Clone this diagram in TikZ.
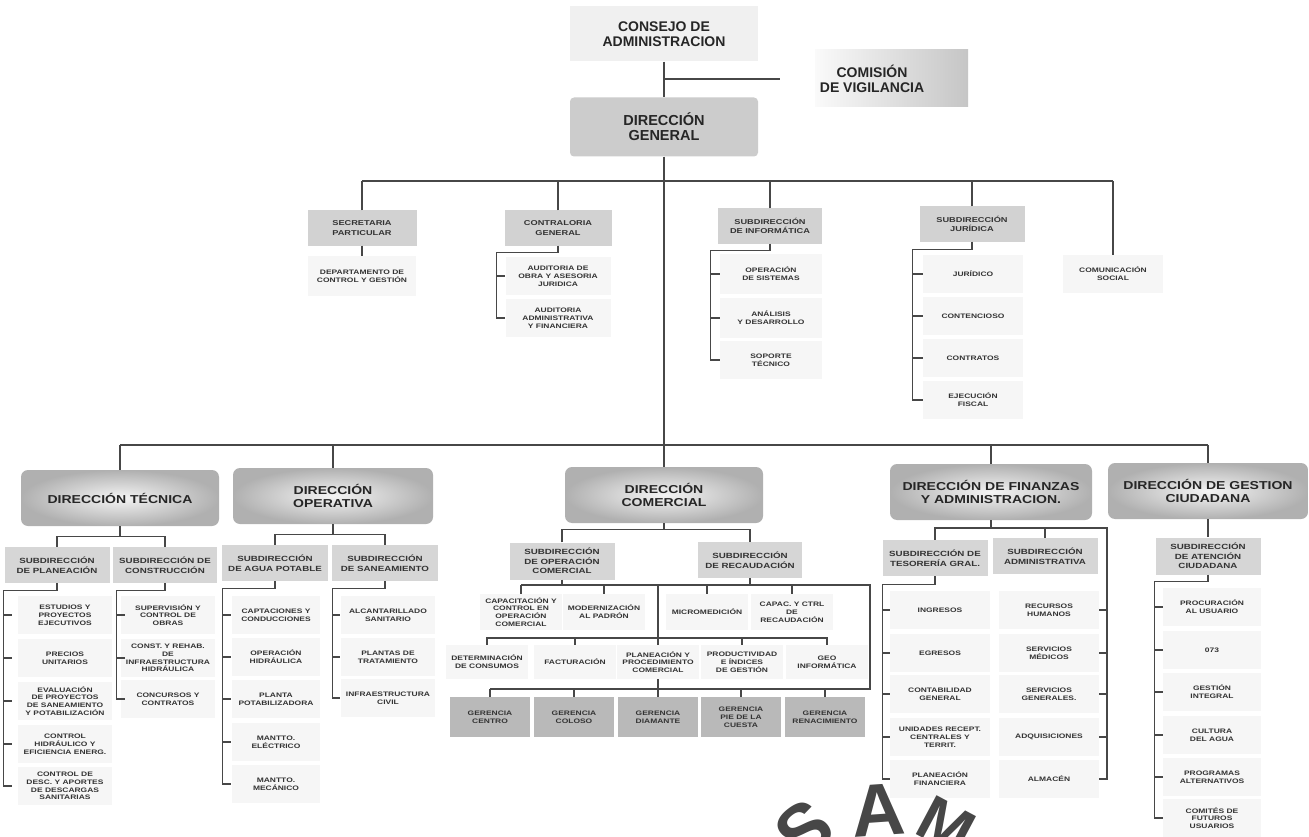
\documentclass[tikz,border=0pt]{standalone}
\usepackage{fontspec}
\setmainfont{Liberation Sans}
\newfontfamily\widef[FakeStretch=1.3]{Liberation Sans}
\newfontfamily\dirf[FakeStretch=1.22]{Liberation Sans}
\usetikzlibrary{calc}
\begin{document}
\begin{tikzpicture}[x=1pt,y=-1pt,
 ln/.style={draw=black!72, line width=1.1pt},
 topbox/.style={font=\bfseries\fontsize{14}{14.5}\selectfont, align=center, inner sep=0pt, text=black!85},
 dirbox/.style={rounded corners=7pt, inner color=gray!8, outer color=gray!62, font=\dirf\bfseries\fontsize{11.5}{13.5}\selectfont, align=center, minimum width=198pt, minimum height=56pt, inner sep=0pt, text=black!85},
 hdr/.style={fill=gray!35, font=\widef\bfseries\fontsize{7.1}{9.5}\selectfont, align=center, inner sep=0pt, minimum width=105pt, minimum height=35pt, text=black!80},
 sub/.style={fill=gray!32, font=\widef\bfseries\fontsize{7.5}{10}\selectfont, align=center, inner sep=0pt, minimum width=105pt, minimum height=36pt, text=black!80},
 item/.style={fill=gray!7, font=\widef\bfseries\fontsize{6.5}{7.8}\selectfont, align=center, inner sep=0pt, minimum width=94pt, minimum height=38pt, text=black!80},
 ger/.style={item, fill=gray!55, minimum width=80pt, minimum height=40pt},
 stamp/.style={font=\bfseries\fontsize{74}{74}\selectfont, text=black!72, inner sep=0pt}
]
\fill[white] (0,0) rectangle (1309,837);
\useasboundingbox (0,0) rectangle (1309,837);

% ---------------- top
\node[topbox, fill=gray!12, minimum width=188pt, minimum height=55pt] (consejo) at (664,34) {CONSEJO DE\\ADMINISTRACION};
\shade[left color=gray!4, right color=gray!45] (815,50) rectangle (968,107);
\node[topbox] (comision) at (872,79) {COMISIÓN\\DE VIGILANCIA};
\node[topbox, font=\bfseries\fontsize{14.5}{15}\selectfont, fill=gray!40, rounded corners=4pt, minimum width=188pt, minimum height=59pt] (dg) at (664,127) {DIRECCIÓN\\GENERAL};
\coordinate (cv) at (780,79);
\draw[ln] (consejo.south) -- (dg.north);
\draw[ln] (consejo.south |- cv) -- (cv);

% ---------------- second level
\coordinate (b1) at (664,181);
\node[hdr, minimum width=109pt] (sec) at (362,228) {SECRETARIA\\PARTICULAR};
\node[item, minimum width=108pt, minimum height=40pt] (dept) at (362,276) {DEPARTAMENTO DE\\CONTROL Y GESTIÓN};
\node[hdr, minimum width=107pt] (contra) at (558,228) {CONTRALORIA\\GENERAL};
\node[item, minimum width=105pt] (aud1) at (558,276) {AUDITORIA DE\\OBRA Y ASESORIA\\JURIDICA};
\node[item, minimum width=105pt] (aud2) at (558,318) {AUDITORIA\\ADMINISTRATIVA\\Y FINANCIERA};
\node[hdr, minimum width=104pt] (info) at (770,226) {SUBDIRECCIÓN\\DE INFORMÁTICA};
\node[item, minimum width=102pt, minimum height=40pt] (inf1) at (771,274) {OPERACIÓN\\DE SISTEMAS};
\node[item, minimum width=102pt, minimum height=40pt] (inf2) at (771,318) {ANÁLISIS\\Y DESARROLLO};
\node[item, minimum width=102pt, minimum height=38pt] (inf3) at (771,360) {SOPORTE\\TÉCNICO};
\node[hdr] (jur) at (972,224) {SUBDIRECCIÓN\\JURÍDICA};
\node[item, minimum width=100pt] (jur1) at (973,274) {JURÍDICO};
\node[item, minimum width=100pt] (jur2) at (973,316) {CONTENCIOSO};
\node[item, minimum width=100pt] (jur3) at (973,358) {CONTRATOS};
\node[item, minimum width=100pt] (jur4) at (973,400) {EJECUCIÓN\\FISCAL};
\node[item, minimum width=100pt] (com) at (1113,274) {COMUNICACIÓN\\SOCIAL};

\draw[ln] (sec.north |- b1) -- (com.north |- b1);
\foreach \n in {sec,contra,info,jur,com} \draw[ln] (\n.north) -- (\n.north |- b1);
\draw[ln] (sec.south) -- (dept.north);
\draw[ln] (contra.south) -- ++(0,7) -| ([xshift=-9pt]aud2.west) -- (aud2.west);
\draw[ln] ([xshift=-9pt]aud1.west) -- (aud1.west);
\draw[ln] (info.south) -- ++(0,7) -| ([xshift=-9pt]inf3.west) -- (inf3.west);
\foreach \n in {inf1,inf2} \draw[ln] ([xshift=-9pt]\n.west) -- (\n.west);
\draw[ln] (jur.south) -- ++(0,8) -| ([xshift=-10pt]jur4.west) -- (jur4.west);
\foreach \n in {jur1,jur2,jur3} \draw[ln] ([xshift=-10pt]\n.west) -- (\n.west);

% ---------------- direcciones
\coordinate (b2) at (664,445);
\node[dirbox] (dtec) at (120,498) {DIRECCIÓN TÉCNICA};
\node[dirbox, minimum width=200pt] (dope) at (333,496) {DIRECCIÓN\\OPERATIVA};
\node[dirbox] (dcom) at (664,495) {DIRECCIÓN\\COMERCIAL};
\node[dirbox, minimum width=202pt] (dfin) at (991,492) {DIRECCIÓN DE FINANZAS\\Y ADMINISTRACION.};
\node[dirbox, minimum width=200pt] (dges) at (1208,491) {DIRECCIÓN DE GESTION\\CIUDADANA};
\draw[ln] (dg.south) -- (dcom.north);
\draw[ln] (dtec.north |- b2) -- (dges.north |- b2);
\foreach \n in {dtec,dope,dfin,dges} \draw[ln] (\n.north) -- (\n.north |- b2);

% ---------------- tecnica
\node[sub] (splan) at (57,565) {SUBDIRECCIÓN\\DE PLANEACIÓN};
\node[sub, minimum width=104pt] (scons) at (165,565) {SUBDIRECCIÓN DE\\CONSTRUCCIÓN};
\draw[ln] (dtec.south) -- ++(0,10) coordinate (tj);
\draw[ln] (splan.north) |- (tj) -| (scons.north);
\node[item] (p1) at (65,615) {ESTUDIOS Y\\PROYECTOS\\EJECUTIVOS};
\node[item] (p2) at (65,658) {PRECIOS\\UNITARIOS};
\node[item] (p3) at (65,701) {EVALUACIÓN\\DE PROYECTOS\\DE SANEAMIENTO\\Y POTABILIZACIÓN};
\node[item] (p4) at (65,744) {CONTROL\\HIDRÁULICO Y\\EFICIENCIA ENERG.};
\node[item] (p5) at (65,786) {CONTROL DE\\DESC. Y APORTES\\DE DESCARGAS\\SANITARIAS};
\draw[ln] (splan.south) -- ++(0,7) -| ([xshift=-14pt]p5.west) -- ([xshift=-6pt]p5.west);
\foreach \n in {p1,p2,p3,p4} \draw[ln] ([xshift=-14pt]\n.west) -- ([xshift=-6pt]\n.west);
\node[item] (c1) at (168,615) {SUPERVISIÓN Y\\CONTROL DE\\OBRAS};
\node[item] (c2) at (168,658) {CONST. Y REHAB.\\DE\\INFRAESTRUCTURA\\HIDRÁULICA};
\node[item] (c3) at (168,699) {CONCURSOS Y\\CONTRATOS};
\draw[ln] (scons.south) -- ++(0,7) -| ([xshift=-4pt]c3.west) -- ([xshift=4pt]c3.west);
\foreach \n in {c1,c2} \draw[ln] ([xshift=-4pt]\n.west) -- ([xshift=4pt]\n.west);

% ---------------- operativa
\node[sub, minimum width=106pt] (sagua) at (275,563) {SUBDIRECCIÓN\\DE AGUA POTABLE};
\node[sub, minimum width=106pt] (ssan) at (385,563) {SUBDIRECCIÓN\\DE SANEAMIENTO};
\draw[ln] (dope.south) -- ++(0,10) coordinate (oj);
\draw[ln] (sagua.north) |- (oj) -| (ssan.north);
\node[item, minimum width=88pt] (a1) at (276,615) {CAPTACIONES Y\\CONDUCCIONES};
\node[item, minimum width=88pt] (a2) at (276,657) {OPERACIÓN\\HIDRÁULICA};
\node[item, minimum width=88pt] (a3) at (276,699) {PLANTA\\POTABILIZADORA};
\node[item, minimum width=88pt] (a4) at (276,742) {MANTTO.\\ELÉCTRICO};
\node[item, minimum width=88pt] (a5) at (276,784) {MANTTO.\\MECÁNICO};
\draw[ln] (sagua.south) -- ++(0,7) -| ([xshift=-9pt]a5.west) -- ([xshift=-1pt]a5.west);
\foreach \n in {a1,a2,a3,a4} \draw[ln] ([xshift=-9pt]\n.west) -- ([xshift=-1pt]\n.west);
\node[item] (s1) at (388,615) {ALCANTARILLADO\\SANITARIO};
\node[item] (s2) at (388,657) {PLANTAS DE\\TRATAMIENTO};
\node[item] (s3) at (388,698) {INFRAESTRUCTURA\\CIVIL};
\draw[ln] (ssan.south) -- ++(0,7) -| ([xshift=-8pt]s3.west) -- ([xshift=-1pt]s3.west);
\foreach \n in {s1,s2} \draw[ln] ([xshift=-8pt]\n.west) -- ([xshift=-1pt]\n.west);

% ---------------- comercial
\node[sub, font=\widef\bfseries\fontsize{7.5}{9.5}\selectfont, minimum height=37pt] (sopc) at (562,561) {SUBDIRECCIÓN\\DE OPERACIÓN\\COMERCIAL};
\node[sub, minimum width=104pt] (srec) at (750,560) {SUBDIRECCIÓN\\DE RECAUDACIÓN};
\draw[ln] (dcom.south) -- ++(0,6) coordinate (kj);
\draw[ln] (sopc.north) |- (kj) -| (srec.north);
\coordinate (cb1) at (870,585);
\coordinate (cb3) at (870,689);
\coordinate (cm) at (658,585);
\coordinate (cmid) at (658,638);
\node[item, minimum width=82pt, minimum height=36pt] (r1) at (521,612) {CAPACITACIÓN Y\\CONTROL EN\\OPERACIÓN\\COMERCIAL};
\node[item, minimum width=82pt, minimum height=36pt] (r2) at (604,612) {MODERNIZACIÓN\\AL PADRÓN};
\node[item, minimum width=82pt, minimum height=36pt] (r3) at (707,612) {MICROMEDICIÓN};
\node[item, minimum width=82pt, minimum height=36pt] (r4) at (792,612) {CAPAC. Y CTRL\\DE\\RECAUDACIÓN};
\node[item, minimum width=82pt, minimum height=34pt] (m1) at (487,662) {DETERMINACIÓN\\DE CONSUMOS};
\node[item, minimum width=82pt, minimum height=34pt] (m2) at (575,662) {FACTURACIÓN};
\node[item, minimum width=82pt, minimum height=34pt] (m3) at (658,662) {PLANEACIÓN Y\\PROCEDIMIENTO\\COMERCIAL};
\node[item, minimum width=82pt, minimum height=34pt] (m4) at (742,662) {PRODUCTIVIDAD\\E ÍNDICES\\DE GESTIÓN};
\node[item, minimum width=82pt, minimum height=34pt] (m5) at (827,662) {GEO\\INFORMÁTICA};
\node[ger] (g1) at (490,717) {GERENCIA\\CENTRO};
\node[ger] (g2) at (574,717) {GERENCIA\\COLOSO};
\node[ger] (g3) at (658,717) {GERENCIA\\DIAMANTE};
\node[ger] (g4) at (741,717) {GERENCIA\\PIE DE LA\\CUESTA};
\node[ger] (g5) at (825,717) {GERENCIA\\RENACIMIENTO};
\draw[ln] (sopc.south) -- (sopc.south |- cb1);
\draw[ln] (srec.south) -- (srec.south |- cb1);
\draw[ln] (r1.north |- cb1) -- (cb1) -- (cb3) -- (g1.north |- cb3);
\foreach \n in {r1,r2,r3,r4} \draw[ln] (\n.north) -- (\n.north |- cb1);
\draw[ln] (cm) -- (m3.north);
\draw[ln] (m1.north) |- (cmid) -| (m5.north);
\foreach \n in {m2,m4} \draw[ln] (\n.north) -- (\n.north |- cmid);
\draw[ln] (m3.south) -- (g3.north);
\foreach \n in {g1,g2,g4,g5} \draw[ln] (\n.north) -- (\n.north |- cb3);

% ---------------- finanzas
\node[sub] (stes) at (935,558) {SUBDIRECCIÓN DE\\TESORERÍA GRAL.};
\node[sub] (sadm) at (1045,556) {SUBDIRECCIÓN\\ADMINISTRATIVA};
\node[item, minimum width=100pt] (t1) at (940,610) {INGRESOS};
\node[item, minimum width=100pt] (t2) at (940,653) {EGRESOS};
\node[item, minimum width=100pt] (t3) at (940,694) {CONTABILIDAD\\GENERAL};
\node[item, minimum width=100pt] (t4) at (940,737) {UNIDADES RECEPT.\\CENTRALES Y\\TERRIT.};
\node[item, minimum width=100pt] (t5) at (940,779) {PLANEACIÓN\\FINANCIERA};
\node[item, minimum width=100pt] (ad1) at (1049,610) {RECURSOS\\HUMANOS};
\node[item, minimum width=100pt] (ad2) at (1049,653) {SERVICIOS\\MÉDICOS};
\node[item, minimum width=100pt] (ad3) at (1049,694) {SERVICIOS\\GENERALES.};
\node[item, minimum width=100pt] (ad4) at (1049,737) {ADQUISICIONES};
\node[item, minimum width=100pt] (ad5) at (1049,779) {ALMACÉN};
\coordinate (fb) at (1107,528);
\draw[ln] (dfin.south) -- (dfin.south |- fb);
\draw[ln] (stes.north) |- (fb) -- (fb |- ad5.east) -- (ad5.east);
\draw[ln] (sadm.north) -- (sadm.north |- fb);
\foreach \n in {ad1,ad2,ad3,ad4} \draw[ln] (fb |- \n.east) -- (\n.east);
\draw[ln] (stes.south) -- ++(0,8) -| ([xshift=-7pt]t5.west) -- (t5.west);
\foreach \n in {t1,t2,t3,t4} \draw[ln] ([xshift=-7pt]\n.west) -- (\n.west);

% ---------------- gestion
\node[sub, font=\widef\bfseries\fontsize{7.5}{9.5}\selectfont, minimum height=37pt] (sate) at (1208,556) {SUBDIRECCIÓN\\DE ATENCIÓN\\CIUDADANA};
\draw[ln] (dges.south) -- (sate.north);
\node[item, minimum width=98pt] (u1) at (1212,607) {PROCURACIÓN\\AL USUARIO};
\node[item, minimum width=98pt] (u2) at (1212,650) {073};
\node[item, minimum width=98pt] (u3) at (1212,692) {GESTIÓN\\INTEGRAL};
\node[item, minimum width=98pt] (u4) at (1212,735) {CULTURA\\DEL AGUA};
\node[item, minimum width=98pt] (u5) at (1212,777) {PROGRAMAS\\ALTERNATIVOS};
\node[item, minimum width=98pt] (u6) at (1212,818) {COMITÉS DE\\FUTUROS\\USUARIOS};
\draw[ln] (sate.south) -- ++(0,7) -| ([xshift=-8pt]u6.west) -- (u6.west);
\foreach \n in {u1,u2,u3,u4,u5} \draw[ln] ([xshift=-8pt]\n.west) -- (\n.west);

% ---------------- stamp
\begin{scope}
\clip (0,0) rectangle (1309,837);
\node[stamp, rotate=38] (stS) at (804,830) {S};
\node[stamp, rotate=4] (stA) at (878,810) {A};
\node[stamp, rotate=-28, font=\bfseries\fontsize{64}{64}\selectfont] (stM) at (946,826) {M};
\end{scope}
\end{tikzpicture}
\end{document}
